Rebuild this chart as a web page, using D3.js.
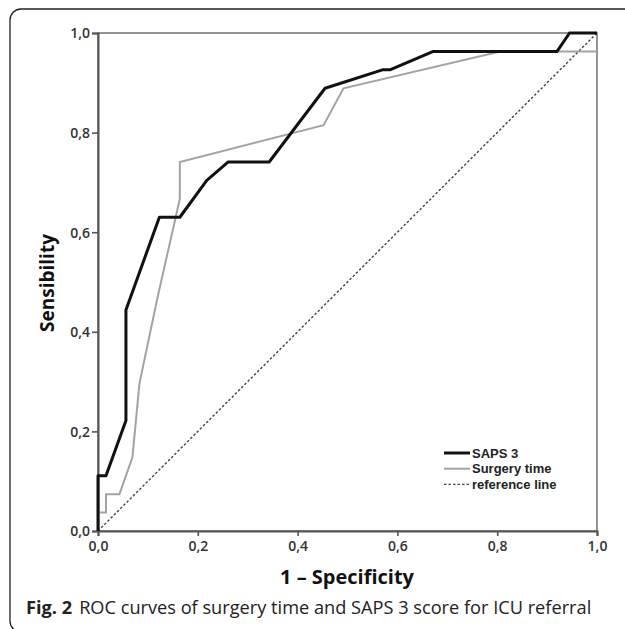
<!DOCTYPE html>
<html>
<head>
<meta charset="UTF-8">
<title>ROC curves</title>
<script src="https://d3js.org/d3.v7.min.js"></script>
<style>
 body { margin: 0; background: #fff; }
 text { font-family: "Open Sans", sans-serif; }
</style>
</head>
<body>
<script>
// ROC points (27 positive cases -> steps of 1/27)
var sapsX = [0, 0, 0.016, 0.056, 0.056, 0.123, 0.164, 0.218, 0.261, 0.343, 0.455, 0.57, 0.585, 0.672, 0.92, 0.945, 1];
var sapsY = [0, 0.111, 0.111, 0.222, 0.444, 0.630, 0.630, 0.704, 0.741, 0.741, 0.889, 0.926, 0.926, 0.963, 0.963, 1, 1];
var surgX = [0, 0, 0.016, 0.016, 0.043, 0.069, 0.083, 0.118, 0.164, 0.164, 0.452, 0.492, 0.806, 1];
var surgY = [0, 0.037, 0.037, 0.074, 0.074, 0.148, 0.296, 0.463, 0.667, 0.741, 0.815, 0.889, 0.963, 0.963];
var refX = [0, 1];
var refY = [0, 1];
var ticks = [0, 0.2, 0.4, 0.6, 0.8, 1.0];
var legendNames = ["SAPS 3", "Surgery time", "reference line"];

var W = 625, H = 629;
var svg = d3.select("body").append("svg").attr("width", W).attr("height", H);

// outer frame
svg.append("rect")
  .attr("x", 10).attr("y", 9).attr("width", 700).attr("height", 623)
  .attr("rx", 11)
  .attr("fill", "none").attr("stroke", "#222").attr("stroke-width", 1.3);

var x = d3.scaleLinear().domain([0, 1]).range([98, 597]);
var y = d3.scaleLinear().domain([0, 1]).range([531, 33]);
var fmt = function (d) { return d3.format(".1f")(d).replace(".", ","); };

// frame of the plot
svg.append("rect")
  .attr("x", x(0)).attr("y", y(1)).attr("width", x(1) - x(0)).attr("height", y(0) - y(1))
  .attr("fill", "none").attr("stroke", "#666").attr("stroke-width", 1.4);

var xAxis = svg.append("g").attr("transform", "translate(0," + y(0) + ")")
  .call(d3.axisBottom(x).tickValues(ticks).tickFormat(fmt).tickSize(5).tickPadding(5));
var yAxis = svg.append("g").attr("transform", "translate(" + x(0) + ",0)")
  .call(d3.axisLeft(y).tickValues(ticks).tickFormat(fmt).tickSize(6).tickPadding(2));
[xAxis, yAxis].forEach(function (a) {
  a.select(".domain").attr("stroke", "#555").attr("stroke-width", 2);
  a.selectAll(".tick line").attr("stroke", "#555").attr("stroke-width", 1.6);
  a.selectAll(".tick text").attr("fill", "#333").style("font-size", "14px").style("font-weight", "600");
});
yAxis.selectAll(".tick text").attr("dy", "0.35em");

function pts(xs, ys) { return xs.map(function (v, i) { return [v, ys[i]]; }); }
var line = d3.line().x(function (d) { return x(d[0]); }).y(function (d) { return y(d[1]); });

svg.append("path").datum(pts(refX, refY)).attr("d", line)
  .attr("fill", "none").attr("stroke", "#444").attr("stroke-width", 1.4).attr("stroke-dasharray", "2.5,2");
svg.append("path").datum(pts(surgX, surgY)).attr("d", line)
  .attr("fill", "none").attr("stroke", "#a3a3a3").attr("stroke-width", 2);
svg.append("path").datum(pts(sapsX, sapsY)).attr("d", line)
  .attr("fill", "none").attr("stroke", "#111").attr("stroke-width", 3).attr("stroke-linejoin", "round");

// legend
var lg = [{stroke: "#111", w: 3, dash: null}, {stroke: "#a3a3a3", w: 2, dash: null}, {stroke: "#444", w: 1.4, dash: "2.5,2"}];
legendNames.forEach(function (n, i) {
  var yy = 453 + i * 15.7;
  svg.append("line").attr("x1", 444).attr("x2", 470).attr("y1", yy).attr("y2", yy)
    .attr("stroke", lg[i].stroke).attr("stroke-width", lg[i].w).attr("stroke-dasharray", lg[i].dash);
  svg.append("text").attr("x", 472).attr("y", yy).attr("dy", "0.35em")
    .style("font-family", "'Liberation Sans', sans-serif")
    .style("font-size", "13px").style("font-weight", "bold").attr("fill", "#222").text(n);
});

// axis titles
svg.append("text").attr("x", 347).attr("y", 584).attr("text-anchor", "middle")
  .style("font-size", "20px").style("font-weight", "bold").attr("fill", "#111").text("1 – Specificity");
svg.append("text").attr("transform", "translate(54,283) rotate(-90)").attr("text-anchor", "middle")
  .style("font-size", "19px").style("font-weight", "bold").attr("fill", "#111").text("Sensibility");

// caption
var cap = svg.append("text").attr("x", 26).attr("y", 614).style("font-size", "18.2px").attr("fill", "#222");
cap.append("tspan").style("font-weight", "bold").text("Fig. 2");
cap.append("tspan").attr("dx", 7).text("ROC curves of surgery time and SAPS 3 score for ICU referral");
</script>
</body>
</html>
